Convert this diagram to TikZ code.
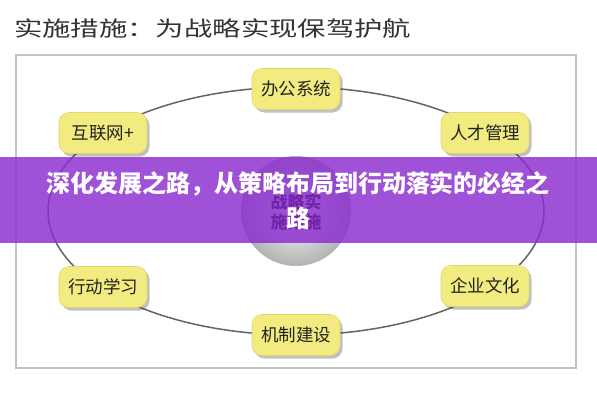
\documentclass[tikz,border=0pt]{standalone}
\usepackage{fontspec}
\setmainfont{Noto Sans CJK SC}
\newfontfamily\titlefont[FakeStretch=1.35]{Noto Sans CJK SC}
\usetikzlibrary{shadows}
\definecolor{framecol}{RGB}{195,195,195}
\definecolor{ringcol}{RGB}{100,100,100}
\definecolor{nodefill}{RGB}{242,235,128}
\definecolor{nodeedge}{RGB}{225,215,110}
\definecolor{bannercol}{RGB}{139,44,207}
\definecolor{txt}{RGB}{34,34,34}
\tikzset{
  modbox/.style={draw=nodeedge, line width=0.6pt, fill=nodefill, rounded corners=10pt,
    minimum width=88pt, minimum height=41pt, inner sep=0pt, text=txt,
    font=\fontsize{17.5}{17.5}\selectfont,
    drop shadow={shadow xshift=2.5pt, shadow yshift=-3pt, opacity=0.35, fill=black!70}},
  bantext/.style={text=white, font=\bfseries\fontsize{24}{24}\selectfont, inner sep=0pt},
}
\begin{document}
\begin{tikzpicture}[x=1pt,y=-1pt]
\useasboundingbox (0,0) rectangle (597,400);
\fill[white] (0,0) rectangle (597,400);
\node[anchor=west, inner sep=0pt, text=black!80, font=\titlefont\fontsize{21}{21}\selectfont] (title) at (14,28) {实施措施：为战略实现保驾护航};
\draw[framecol, line width=1.3pt] (16,55) rectangle (576,368);
\draw[ringcol, line width=1.5pt] (296,211) ellipse [x radius=248, y radius=124];
\shade[inner color=white, outer color=gray!60] (296,211) circle [radius=55];
\node[inner sep=0pt, text=black, font=\bfseries\fontsize{17}{17}\selectfont, align=center] (core) at (296,212) {战略实\\[3pt]施措施};
\node[modbox] (a) at (296,89) {办公系统};
\node[modbox] (b) at (103,133) {互联网+};
\node[modbox] (c) at (485,133) {人才管理};
\node[modbox] (d) at (103,287) {行动学习};
\node[modbox] (e) at (485,286) {企业文化};
\node[modbox] (f) at (296,335) {机制建设};
\fill[bannercol, opacity=0.82] (0,157) rectangle (597,243);
\node[bantext] (l1) at (298,184) {深化发展之路，从策略布局到行动落实的必经之};
\node[bantext] (l2) at (298,218) {路};
\end{tikzpicture}
\end{document}
